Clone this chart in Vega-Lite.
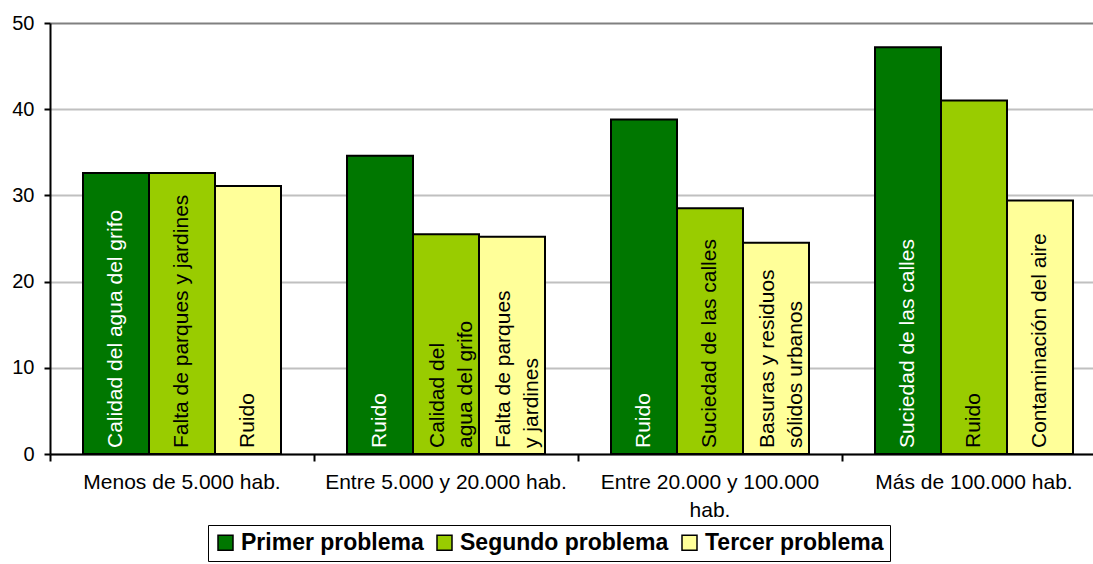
{
  "$schema": "https://vega.github.io/schema/vega-lite/v6.json",
  "width": 1043,
  "height": 431,
  "autosize": {"type": "none"},
  "padding": {"left": 50, "top": 23, "right": 0, "bottom": 110},
  "background": "white",
  "config": {
    "font": "Liberation Sans",
    "view": {"stroke": null},
    "axis": {"domainColor": "black", "domainWidth": 2, "tickColor": "black", "tickWidth": 2, "labelColor": "black", "labelFont": "Liberation Sans", "title": null}
  },
  "data": {
    "values": [
      {"tamano": "Menos de 5.000 hab.", "serie": "Primer problema", "valor": 32.6, "etiqueta": "Calidad del agua del grifo"},
      {"tamano": "Menos de 5.000 hab.", "serie": "Segundo problema", "valor": 32.6, "etiqueta": "Falta de parques y jardines"},
      {"tamano": "Menos de 5.000 hab.", "serie": "Tercer problema", "valor": 31.1, "etiqueta": "Ruido"},
      {"tamano": "Entre 5.000 y 20.000 hab.", "serie": "Primer problema", "valor": 34.6, "etiqueta": "Ruido"},
      {"tamano": "Entre 5.000 y 20.000 hab.", "serie": "Segundo problema", "valor": 25.5, "etiqueta": "Calidad del\nagua del grifo"},
      {"tamano": "Entre 5.000 y 20.000 hab.", "serie": "Tercer problema", "valor": 25.2, "etiqueta": "Falta de parques\ny jardines"},
      {"tamano": "Entre 20.000 y 100.000 hab.", "serie": "Primer problema", "valor": 38.8, "etiqueta": "Ruido"},
      {"tamano": "Entre 20.000 y 100.000 hab.", "serie": "Segundo problema", "valor": 28.5, "etiqueta": "Suciedad de las calles"},
      {"tamano": "Entre 20.000 y 100.000 hab.", "serie": "Tercer problema", "valor": 24.5, "etiqueta": "Basuras y residuos\nsólidos urbanos"},
      {"tamano": "Más de 100.000 hab.", "serie": "Primer problema", "valor": 47.2, "etiqueta": "Suciedad de las calles"},
      {"tamano": "Más de 100.000 hab.", "serie": "Segundo problema", "valor": 41.0, "etiqueta": "Ruido"},
      {"tamano": "Más de 100.000 hab.", "serie": "Tercer problema", "valor": 29.4, "etiqueta": "Contaminación del aire"}
    ]
  },
  "encoding": {
    "x": {
      "field": "tamano", "type": "nominal", "sort": null,
      "scale": {"range": [0, 1056], "paddingInner": 0, "paddingOuter": 0},
      "axis": {
        "labelAngle": 0, "labelFontSize": 21, "tickSize": 7, "labelPadding": 10,
        "bandPosition": 0, "labelLineHeight": 28, "labelLimit": 300,
        "labelExpr": "datum.label == 'Entre 20.000 y 100.000 hab.' ? ['Entre 20.000 y 100.000', 'hab.'] : datum.label"
      }
    },
    "xOffset": {
      "field": "serie", "type": "nominal",
      "sort": ["Primer problema", "Segundo problema", "Tercer problema"],
      "scale": {"paddingInner": 0, "paddingOuter": 0.5}
    }
  },
  "layer": [
    {
      "mark": {"type": "bar", "stroke": "black", "strokeWidth": 2},
      "encoding": {
        "y": {
          "field": "valor", "type": "quantitative",
          "scale": {"domain": [0, 50], "nice": false},
          "axis": {
            "values": [0, 10, 20, 30, 40, 50], "labelFontSize": 20, "tickSize": 6, "labelPadding": 10,
            "grid": true, "gridWidth": 2,
            "gridColor": {"condition": {"test": "datum.value == 50", "value": "#808080"}, "value": "#C0C0C0"}
          }
        },
        "color": {
          "field": "serie", "type": "nominal",
          "sort": ["Primer problema", "Segundo problema", "Tercer problema"],
          "scale": {"domain": ["Primer problema", "Segundo problema", "Tercer problema"], "range": ["#007700", "#99CC00", "#FFFF99"]},
          "legend": {
            "orient": "none", "legendX": 158, "legendY": 502, "direction": "horizontal", "title": null,
            "strokeColor": "black", "fillColor": "white", "padding": 6,
            "labelFont": "Liberation Sans", "labelFontWeight": "bold", "labelFontSize": 23, "labelColor": "black", "labelLimit": 0,
            "symbolType": "square", "symbolSize": 225, "symbolStrokeColor": "black", "symbolStrokeWidth": 1.5, "symbolOpacity": 1,
            "columnPadding": 9, "labelOffset": 4
          }
        }
      }
    },
    {
      "transform": [{"filter": "indexof(datum.etiqueta, '\\n') < 0"}],
      "mark": {"type": "text", "angle": 270, "align": "left", "baseline": "middle", "dx": 6, "fontSize": 21, "font": "Liberation Sans"},
      "encoding": {
        "y": {"datum": 0, "type": "quantitative"},
        "text": {"field": "etiqueta"},
        "color": {"condition": {"test": "datum.serie == 'Primer problema'", "value": "white"}, "value": "black"}
      }
    },
    {
      "transform": [{"filter": "indexof(datum.etiqueta, '\\n') >= 0"}],
      "mark": {"type": "text", "angle": 270, "align": "left", "baseline": "middle", "dx": 6, "dy": -8, "fontSize": 21, "lineBreak": "\n", "lineHeight": 28, "font": "Liberation Sans"},
      "encoding": {
        "y": {"datum": 0, "type": "quantitative"},
        "text": {"field": "etiqueta"},
        "color": {"condition": {"test": "datum.serie == 'Primer problema'", "value": "white"}, "value": "black"}
      }
    }
  ]
}
